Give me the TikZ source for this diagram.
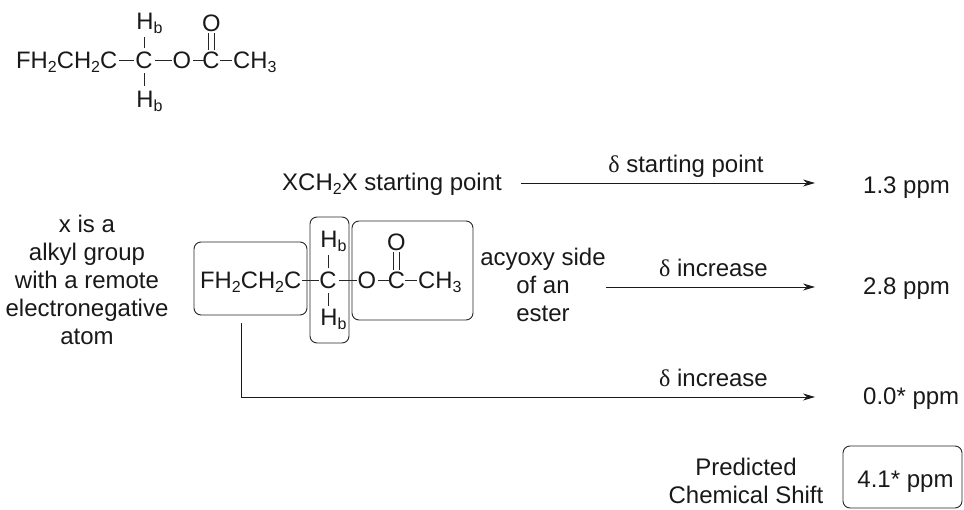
\documentclass[tikz,border=0pt]{standalone}
\usepackage{fontspec}
\setmainfont{Liberation Sans}
\newfontfamily\serifgr{Liberation Serif}
\usetikzlibrary{arrows.meta}
\newcommand{\sbs}[1]{\raisebox{-0.3ex}{\fontsize{16}{16}\selectfont #1}}
\newcommand{\dlt}{{\serifgr δ}}
\tikzset{
  txt/.style={inner sep=0pt,font=\fontsize{24}{28}\selectfont,text=black!90},
  mol/.style={txt,font=\fontsize{23.8}{28}\selectfont,anchor=base},
  mlt/.style={txt,align=center},
  frame/.style={draw=black!85,line width=0.9pt,rounded corners=7pt,fill=none},
  bond/.style={draw=black!85,line width=0.9pt},
  arr/.style={draw=black!90,line width=0.9pt,-{Stealth[length=12pt,width=7pt]}}
}
\begin{document}
\begin{tikzpicture}[x=1pt,y=-1pt]
\useasboundingbox (0,0) rectangle (964,510);
% top molecule
\node[mol,anchor=base west] (tchain) at (16,69) {FH\sbs{2}CH\sbs{2}C};
\node[mol] (tc) at (144,69) {C};
\node[mol] (tha) at (149.5,30) {H\sbs{b}};
\node[mol] (thb) at (149.5,108) {H\sbs{b}};
\node[mol] (to) at (182,69) {O};
\node[mol] (tcc) at (211,69) {C};
\node[mol] (too) at (211.5,32) {O};
\node[mol,anchor=base west] (tme) at (233,69) {CH\sbs{3}};
\draw[bond,shorten <=2pt,shorten >=1pt] (tchain.east |- tc) -- (tc.west);
\draw[bond,shorten <=2pt,shorten >=1pt] (tc.east) -- (to.west);
\draw[bond,shorten <=2pt,shorten >=-2pt] (to.east) -- (tcc.west);
\draw[bond,shorten <=0pt,shorten >=1pt] (tcc.east) -- (tme.west |- tcc);
\draw[bond,shorten <=4pt,shorten >=3pt] (tc.north) -- (tc.north |- tha.south);
\draw[bond,shorten <=4pt,shorten >=5pt] (tc.south) -- (tc.south |- thb.north);
\draw[bond,shorten <=2pt,shorten >=1pt] ([xshift=-3pt]tcc.north) -- ([xshift=-3pt]tcc.north |- too.south);
\draw[bond,shorten <=2pt,shorten >=1pt] ([xshift=3pt]tcc.north) -- ([xshift=3pt]tcc.north |- too.south);
% lower molecule
\node[mol,anchor=base west] (chain) at (200,289) {FH\sbs{2}CH\sbs{2}C};
\node[mol] (c) at (328,289) {C};
\node[mol] (ha) at (333.5,248) {H\sbs{b}};
\node[mol] (hb) at (333.5,326) {H\sbs{b}};
\node[mol] (o) at (367,289) {O};
\node[mol] (cc) at (396.5,289) {C};
\node[mol] (oo) at (396.5,251) {O};
\node[mol,anchor=base west] (me) at (418,289) {CH\sbs{3}};
\draw[bond,shorten <=1pt,shorten >=0pt] (chain.east |- c) -- (c.west);
\draw[bond,shorten <=2pt,shorten >=1pt] (c.east) -- (o.west);
\draw[bond,shorten <=2pt,shorten >=-2pt] (o.east) -- (cc.west);
\draw[bond,shorten <=0pt,shorten >=1pt] (cc.east) -- (me.west |- cc);
\draw[bond,shorten <=4pt,shorten >=3pt] (c.north) -- (c.north |- ha.south);
\draw[bond,shorten <=4pt,shorten >=3pt] (c.south) -- (c.south |- hb.north);
\draw[bond,shorten <=2pt,shorten >=1pt] ([xshift=-3pt]cc.north) -- ([xshift=-3pt]cc.north |- oo.south);
\draw[bond,shorten <=2pt,shorten >=1pt] ([xshift=3pt]cc.north) -- ([xshift=3pt]cc.north |- oo.south);
% boxes
\node[frame,minimum width=113pt,minimum height=73pt,inner sep=0pt] (boxl) at (250.5,278.5) {};
\node[frame,minimum width=39pt,minimum height=126pt,inner sep=0pt] (boxm) at (329.5,280) {};
\node[frame,minimum width=121pt,minimum height=99pt,inner sep=0pt] (boxr) at (412.5,270.5) {};
% left label
\node[mlt] (xlab) at (87,280) {x is a\\alkyl group\\with a remote\\electronegative\\atom};
% rows
\node[txt,anchor=west] (start) at (282,184) {XCH\sbs{2}X starting point};
\node[txt] (dstart) at (686,166) {\dlt{} starting point};
\node[txt,anchor=west] (v1) at (863,188) {1.3 ppm};
\node[mlt] (acy) at (543,285) {acyoxy side\\of an\\ester};
\node[txt] (dinc1) at (713.5,268) {\dlt{} increase};
\node[txt,anchor=west] (v2) at (863,289) {2.8 ppm};
\node[txt] (dinc2) at (713.5,378) {\dlt{} increase};
\node[txt,anchor=west] (v3) at (863,399) {0.0* ppm};
\node[mlt] (pred) at (746,481) {Predicted\\Chemical Shift};
\node[txt] (v4) at (905.5,482) {4.1* ppm};
\node[frame,minimum width=119pt,minimum height=62pt,inner sep=0pt] (vbox) at (902.5,477) {};
% arrows
\coordinate (e1) at (815,183);
\coordinate (e2) at (815,287);
\coordinate (e3) at (815,397);
\coordinate (s1) at (521,183);
\coordinate (s2) at (606,287);
\draw[arr] (s1) -- (e1);
\draw[arr] (s2) -- (e2);
\draw[arr] ([yshift=-8pt]boxl.south -| 241,0) |- (e3);
\end{tikzpicture}
\end{document}
